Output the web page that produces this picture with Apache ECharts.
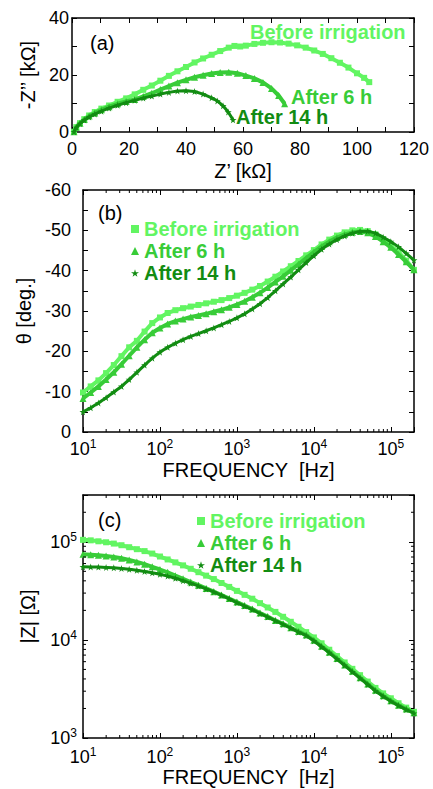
<!DOCTYPE html>
<html><head><meta charset="utf-8">
<script src="https://cdn.jsdelivr.net/npm/echarts@6/dist/echarts.min.js"></script>
<style>html,body{margin:0;padding:0;background:#fff}#c{width:433px;height:789px}</style>
</head><body><div id="c"></div>
<script>
// ---------- DATA ----------
const seriesNames = ['Before irrigation', 'After 6 h', 'After 14 h'];
const freq = [10,12.59,15.85,19.95,25.12,31.62,39.81,50.12,63.10,79.43,
  100,125.9,158.5,199.5,251.2,316.2,398.1,501.2,631.0,794.3,
  1000,1259,1585,1995,2512,3162,3981,5012,6310,7943,
  10000,12589,15849,19953,25119,31623,39811,50119,63096,79433,
  100000,125893,158489,199526];
const thetaBefore = [-9.8,-11.3,-12.8,-14.6,-16.6,-18.8,-21.0,-22.6,-24.9,-27.0,
  -28.4,-29.5,-30.2,-30.7,-31.1,-31.5,-31.9,-32.3,-32.7,-33.2,
  -33.8,-34.5,-35.3,-36.2,-37.3,-38.5,-39.8,-41.1,-42.4,-43.8,
  -45.1,-46.5,-47.7,-48.7,-49.5,-50.0,-50.1,-49.8,-49.0,-47.8,
  -46.2,-44.6,-42.5,-40.2];
const theta6h = [-8.3,-9.8,-11.3,-13.0,-14.8,-16.8,-18.9,-21.0,-22.9,-24.6,
  -25.8,-26.8,-27.5,-28.0,-28.5,-28.9,-29.3,-29.8,-30.3,-30.9,
  -31.6,-32.4,-33.4,-34.5,-35.8,-37.2,-38.6,-40.1,-41.6,-43.1,
  -44.6,-46.0,-47.2,-48.2,-49.0,-49.5,-49.7,-49.4,-48.5,-47.2,
  -45.8,-44.0,-42.2,-40.2];
const theta14h = [-5.0,-6.0,-7.2,-8.5,-9.9,-11.3,-13.0,-14.8,-16.6,-18.3,
  -19.8,-21.0,-22.0,-22.9,-23.7,-24.4,-25.1,-25.8,-26.6,-27.4,
  -28.3,-29.3,-30.5,-31.8,-33.3,-35.0,-36.7,-38.4,-40.2,-42.0,
  -43.7,-45.3,-46.6,-47.7,-48.6,-49.3,-49.7,-49.8,-49.3,-48.3,
  -47.2,-45.9,-44.3,-42.6];
const zBefore = [104700,103500,101200,98900,95900,92300,88100,84100,80400,75900,
  70800,66100,61700,57500,53100,49000,45200,41700,38000,34700,
  31600,28800,26300,23700,21400,19300,17200,15300,13600,12000,
  10600,9230,7940,6840,5890,5070,4370,3760,3240,2850,
  2540,2260,2040,1850];
const z6h = [74500,73800,72800,71600,70100,67900,65300,62400,59200,55600,
  52200,48800,45200,41900,38900,36100,33500,31000,28700,26400,
  24300,22400,20600,18800,17300,15800,14600,13300,12200,11200,
  9890,8610,7500,6460,5560,4790,4120,3550,3070,2690,
  2400,2160,1970,1810];
const z14h = [55600,55500,55200,54800,54300,53500,52500,51300,49900,48300,
  46600,44700,42500,40200,37800,35500,33100,30800,28400,26200,
  24000,22100,20400,18600,17100,15700,14400,13200,12000,11100,
  9770,8510,7410,6380,5500,4730,4070,3510,3020,2660,
  2370,2140,1950,1790];
// Nyquist (Z' kOhm, -Z'' kOhm)
const nyqBefore = [[0.7,0.1],[1.5,1.7],[2.8,3.1],[4.3,4.5],[6.0,5.8],[8.0,7.0],[10.3,8.2],[13,9.3],[16,10.6],[19,11.8],
  [22,13.2],[25,14.8],[28,16.3],[31,18.0],[34,19.7],[37,21.3],[40,22.8],[43,24.4],[46,25.8],[49,27.1],
  [52,28.4],[55,29.6],[57,30.2],[59,30.0],[61,30.3],[64,30.9],[67,31.3],[70,31.5],[73,31.4],[76,31.0],
  [79,30.4],[82,29.6],[85,28.6],[88,27.4],[91,25.9],[94,24.3],[97,22.6],[100,20.6],[102.5,19.0],[104.3,17.5]];
const nyq6h = [[0.7,0.1],[1.5,1.7],[2.8,3.1],[4.3,4.4],[6.0,5.6],[8.0,6.7],[10.3,7.8],[13,8.9],[16,9.9],[19,10.7],
  [22,11.4],[25,12.5],[28,13.6],[31,14.9],[34,16.1],[37,17.3],[40,18.3],[43,19.2],[46,19.9],[49,20.5],
  [52,20.9],[55,21.0],[58,20.6],[61,19.8],[64,18.8],[67,17.4],[70,15.3],[72.5,12.8],[74.6,9.9]];
const nyq14h = [[0.7,0.1],[1.5,1.6],[2.8,3.0],[4.3,4.2],[6.0,5.3],[8.0,6.3],[10.3,7.3],[13,8.4],[16,9.4],[19,10.3],
  [22,11.1],[25,11.9],[28,12.6],[31,13.3],[34,13.9],[37,14.4],[40,14.5],[43,14.2],[46,13.3],[49,12.0],
  [51,10.9],[53,9.2],[54.8,7.0],[56.5,4.3]];
// tick positions for log axes (minor ticks)
const minorFreqTicks = [20,30,40,50,60,70,80,90,200,300,400,500,600,700,800,900,
  2000,3000,4000,5000,6000,7000,8000,9000,20000,30000,40000,50000,60000,70000,80000,90000];
const minorZTicks = [2000,3000,4000,5000,6000,7000,8000,9000,20000,30000,40000,50000,60000,70000,80000,90000,200000];

// ---------- STYLE ----------
const FF = '"Liberation Sans", Arial, sans-serif';
const colors = ['#62f562', '#38cc38', '#128c12'];
const starPath = 'path://M50,0 L61,35 L98,35 L68,57 L79,91 L50,70 L21,91 L32,57 L2,35 L39,35 Z';
const symbols = ['rect', 'triangle', starPath];
const symSizes = [6, 7, 7];
const lineWidths = [4, 4, 3];

const chart = echarts.init(document.getElementById('c'), null, {renderer: 'svg'});

function pow10Label(v) {
  const l = Math.log10(v); const e = Math.round(l);
  if (Math.abs(l - e) > 1e-6) return '';
  return '{b|10}{sup|' + e + '}';
}
const richLog = {
  b: {fontSize: 18, fontFamily: FF, color: '#000', lineHeight: 22},
  sup: {fontSize: 12, fontFamily: FF, color: '#000', verticalAlign: 'top', lineHeight: 12}
};
const axisLineS = {show: true, onZero: false, lineStyle: {color: '#000', width: 1.5}};
const tickS = {show: true, inside: true, length: 5, lineStyle: {color: '#000', width: 1}};
const minorS = {show: true, splitNumber: 2, length: 5, lineStyle: {color: '#000', width: 1}};
const nameS = {fontFamily: FF, fontSize: 20, color: '#000'};

function minorTicks(xi, yi, dim, values, ref) {
  return {
    type: 'custom', name: '_ticks' + xi + dim, coordinateSystem: 'cartesian2d',
    xAxisIndex: xi, yAxisIndex: yi, silent: true, clip: false, z: 10,
    data: values.map(v => dim === 'x' ? [v, ref] : [ref, v]),
    renderItem: function (params, api) {
      const cs = params.coordSys;
      const p = api.coord([api.value(0), api.value(1)]);
      const L = 3, st = {stroke: '#000', lineWidth: 1};
      if (dim === 'x') {
        const x = p[0], yb = cs.y + cs.height, yt = cs.y;
        return {type: 'group', children: [
          {type: 'line', shape: {x1: x, y1: yb, x2: x, y2: yb - L}, style: st},
          {type: 'line', shape: {x1: x, y1: yt, x2: x, y2: yt + L}, style: st}]};
      }
      const y = p[1], xl = cs.x, xr = cs.x + cs.width;
      return {type: 'group', children: [
        {type: 'line', shape: {x1: xl, y1: y, x2: xl + L, y2: y}, style: st},
        {type: 'line', shape: {x1: xr, y1: y, x2: xr - L, y2: y}, style: st}]};
    }
  };
}

const thetas = [thetaBefore, theta6h, theta14h];
const zs = [zBefore, z6h, z14h];
const nyqs = [nyqBefore, nyq6h, nyq14h];
const series = [];
for (let k = 0; k < 3; k++) {
  const common = {
    type: 'line', name: seriesNames[k], symbol: symbols[k], symbolSize: symSizes[k],
    showAllSymbol: true, itemStyle: {color: colors[k]},
    lineStyle: {color: colors[k], width: lineWidths[k]}, z: 3 + k, animation: false
  };
  series.push(Object.assign({}, common, {xAxisIndex: 0, yAxisIndex: 0, data: nyqs[k]}));
  series.push(Object.assign({}, common, {xAxisIndex: 2, yAxisIndex: 2,
    data: freq.map((f, i) => [f, thetas[k][i]])}));
  series.push(Object.assign({}, common, {xAxisIndex: 4, yAxisIndex: 4,
    data: freq.map((f, i) => [f, zs[k][i]])}));
}
series.push(minorTicks(2, 2, 'x', minorFreqTicks, -30));
series.push(minorTicks(4, 4, 'x', minorFreqTicks, 10000));
series.push(minorTicks(4, 4, 'y', minorZTicks, 1000));

function legendData() {
  return seriesNames.map((n, k) => ({name: n, icon: symbols[k],
    textStyle: {color: colors[k], fontSize: 20, fontWeight: 'bold', fontFamily: FF}}));
}

const option = {
  backgroundColor: '#fff',
  animation: false,
  grid: [
    {left: 72, top: 18, width: 342, height: 114},
    {left: 83, top: 190, width: 331, height: 242},
    {left: 83, top: 495, width: 331, height: 243}
  ],
  legend: [
    {left: 126, top: 214, orient: 'vertical', itemWidth: 8, itemHeight: 8, itemGap: 2,
      selectedMode: false, data: legendData()},
    {left: 192, top: 506, orient: 'vertical', itemWidth: 8, itemHeight: 8, itemGap: 2,
      selectedMode: false, data: legendData()}
  ],
  xAxis: [
    {gridIndex: 0, type: 'value', min: 0, max: 120, interval: 10, position: 'bottom',
      axisLine: axisLineS, axisTick: tickS, splitLine: {show: false},
      axisLabel: {margin: 8, fontSize: 18, fontFamily: FF, color: '#000',
        formatter: v => (v % 20 === 0 ? String(v) : '')},
      name: 'Z\u2019 [k\u03a9]', nameLocation: 'middle', nameGap: 29, nameTextStyle: nameS},
    {gridIndex: 0, type: 'value', min: 0, max: 120, interval: 10, position: 'top',
      axisLine: axisLineS, axisTick: tickS, splitLine: {show: false}, axisLabel: {show: false}},
    {gridIndex: 1, type: 'log', min: 10, max: 200000, position: 'bottom',
      axisLine: axisLineS, axisTick: tickS, splitLine: {show: false}, minorTick: {show: false},
      axisLabel: {margin: 6, formatter: pow10Label, rich: richLog},
      name: 'FREQUENCY  [Hz]', nameLocation: 'middle', nameGap: 28, nameTextStyle: nameS},
    {gridIndex: 1, type: 'log', min: 10, max: 200000, position: 'top',
      axisLine: axisLineS, axisTick: tickS, splitLine: {show: false}, axisLabel: {show: false}},
    {gridIndex: 2, type: 'log', min: 10, max: 200000, position: 'bottom',
      axisLine: axisLineS, axisTick: tickS, splitLine: {show: false},
      axisLabel: {margin: 8, formatter: pow10Label, rich: richLog},
      name: 'FREQUENCY  [Hz]', nameLocation: 'middle', nameGap: 26, nameTextStyle: nameS},
    {gridIndex: 2, type: 'log', min: 10, max: 200000, position: 'top',
      axisLine: axisLineS, axisTick: tickS, splitLine: {show: false}, axisLabel: {show: false}}
  ],
  yAxis: [
    {gridIndex: 0, type: 'value', min: 0, max: 40, interval: 10, position: 'left',
      axisLine: axisLineS, axisTick: tickS, splitLine: {show: false},
      axisLabel: {margin: 3, fontSize: 18, fontFamily: FF, color: '#000',
        formatter: v => (v % 20 === 0 ? String(v) : '')},
      name: '-Z\u2019\u2019 [k\u03a9]', nameLocation: 'middle', nameGap: 25, nameTextStyle: nameS},
    {gridIndex: 0, type: 'value', min: 0, max: 40, interval: 10, position: 'right',
      axisLine: axisLineS, axisTick: tickS, splitLine: {show: false}, axisLabel: {show: false}},
    {gridIndex: 1, type: 'value', min: -60, max: 0, interval: 10, inverse: true, position: 'left',
      axisLine: axisLineS, axisTick: tickS, minorTick: minorS, splitLine: {show: false}, minorSplitLine: {show: false},
      axisLabel: {margin: 12, fontSize: 18, fontFamily: FF, color: '#000'},
      name: '\u03b8 [deg.]', nameLocation: 'middle', nameGap: 47, nameTextStyle: nameS},
    {gridIndex: 1, type: 'value', min: -60, max: 0, interval: 10, inverse: true, position: 'right',
      axisLine: axisLineS, axisTick: tickS, minorTick: minorS, splitLine: {show: false}, minorSplitLine: {show: false},
      axisLabel: {show: false}},
    {gridIndex: 2, type: 'log', min: 1000, max: 300000, position: 'left',
      axisLine: axisLineS, axisTick: tickS, splitLine: {show: false},
      axisLabel: {margin: 6, formatter: pow10Label, rich: richLog},
      name: '|Z| [\u03a9]', nameLocation: 'middle', nameGap: 45, nameTextStyle: nameS},
    {gridIndex: 2, type: 'log', min: 1000, max: 300000, position: 'right',
      axisLine: axisLineS, axisTick: tickS, splitLine: {show: false}, axisLabel: {show: false}}
  ],
  graphic: [
    {type: 'text', x: 90, y: 43, style: {text: '(a)', font: '20px ' + FF, fill: '#000', textVerticalAlign: 'middle'}},
    {type: 'text', x: 98, y: 213, style: {text: '(b)', font: '20px ' + FF, fill: '#000', textVerticalAlign: 'middle'}},
    {type: 'text', x: 98, y: 520, style: {text: '(c)', font: '20px ' + FF, fill: '#000', textVerticalAlign: 'middle'}},
    {type: 'text', x: 250, y: 32, style: {text: seriesNames[0], font: 'bold 20px ' + FF, fill: colors[0], textVerticalAlign: 'middle'}},
    {type: 'text', x: 291, y: 97, style: {text: seriesNames[1], font: 'bold 20px ' + FF, fill: colors[1], textVerticalAlign: 'middle'}},
    {type: 'text', x: 236, y: 117, style: {text: seriesNames[2], font: 'bold 20px ' + FF, fill: colors[2], textVerticalAlign: 'middle'}}
  ],
  series: series
};
chart.setOption(option);
</script></body></html>
